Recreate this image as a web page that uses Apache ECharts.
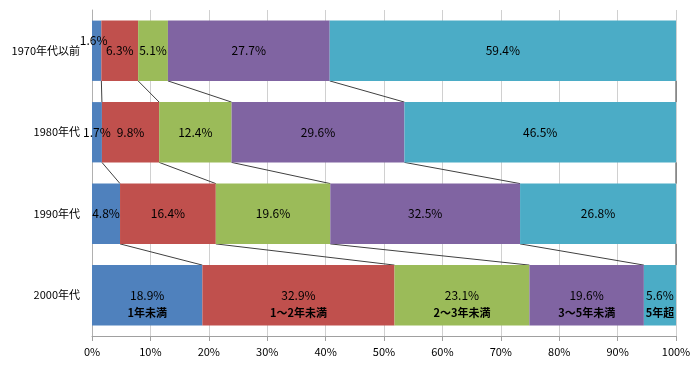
<!DOCTYPE html>
<html><head><meta charset="utf-8">
<script src="https://cdn.jsdelivr.net/npm/echarts@6/dist/echarts.min.js"></script>
<style>html,body{margin:0;padding:0;background:#fff}#c{width:700px;height:373px}</style>
</head><body><div id="c"></div>
<script>
var categories = ['1970年代以前', '1980年代', '1990年代', '2000年代'];
var seriesNames = ['1年未満', '1～2年未満', '2～3年未満', '3～5年未満', '5年超'];
var lt1 = [1.6, 1.7, 4.8, 18.9];
var y1to2 = [6.3, 9.8, 16.4, 32.9];
var y2to3 = [5.1, 12.4, 19.6, 23.1];
var y3to5 = [27.7, 29.6, 32.5, 19.6];
var over5 = [59.4, 46.5, 26.8, 5.6];
var xTicks = [0, 10, 20, 30, 40, 50, 60, 70, 80, 90, 100];
var colors = ['#4F81BD', '#C0504D', '#9BBB59', '#8064A2', '#4BACC6'];

var values = [lt1, y1to2, y2to3, y3to5, over5];
var FONT = '"Noto Sans CJK JP", "Noto Sans", sans-serif';
var BAR_FRAC = 0.74;

// connectors between consecutive rows at cumulative boundaries
var connectors = [];
for (var r = 0; r < categories.length - 1; r++) {
  var c1 = 0, c2 = 0;
  for (var s = 0; s < values.length; s++) {
    c1 += values[s][r]; c2 += values[s][r + 1];
    connectors.push([Math.min(c1, 100), Math.min(c2, 100), r]);
  }
}

var series = values.map(function (arr, si) {
  return {
    name: seriesNames[si],
    type: 'bar',
    stack: 'total',
    barWidth: (BAR_FRAC * 100) + '%',
    itemStyle: { color: colors[si] },
    z: 2,
    data: arr.map(function (v, ri) {
      var item = { value: v };
      if (ri === categories.length - 1) {
        item.label = {
          formatter: '{v|' + v.toFixed(1) + '%}\n{n|' + seriesNames[si] + '}',
          offset: [0, 9],
          rich: {
            v: { fontSize: 12, color: '#000', fontFamily: FONT, lineHeight: 18 },
            n: { fontSize: 11, color: '#000', fontWeight: 'bold', fontFamily: FONT, lineHeight: 18 }
          }
        };
      }
      if (ri === 0 && si === 0) {
        item.label = { offset: [-3, -10] };
      }
      return item;
    }),
    label: {
      show: true,
      position: 'inside',
      color: '#000',
      fontSize: 12,
      fontFamily: FONT,
      formatter: function (p) { return p.value.toFixed(1) + '%'; }
    }
  };
});

series.push({
  type: 'custom',
  z: 1,
  silent: true,
  renderItem: function (params, api) {
    var a = api.coord([api.value(0), api.value(2)]);
    var b = api.coord([api.value(1), api.value(2) + 1]);
    var half = api.size([0, 1])[1] * BAR_FRAC / 2;
    return {
      type: 'line',
      shape: { x1: a[0], y1: a[1] + half, x2: b[0], y2: b[1] - half },
      style: { stroke: '#404040', lineWidth: 1 }
    };
  },
  encode: { x: [0, 1], y: 2 },
  data: connectors
});

var chart = echarts.init(document.getElementById('c'));
chart.setOption({
  animation: false,
  grid: { left: 92, right: 24, top: 10, bottom: 37 },
  xAxis: {
    type: 'value', min: 0, max: 100, interval: 10,
    axisLine: { show: true, lineStyle: { color: '#a0a0a0' } },
    axisTick: { show: true, length: 5, lineStyle: { color: '#a0a0a0' } },
    splitLine: { show: true, lineStyle: { color: '#d0d0d0', width: 1 } },
    axisLabel: {
      color: '#000', fontSize: 11, fontFamily: FONT, margin: 10,
      formatter: function (v) { return xTicks.indexOf(v) >= 0 ? v + '%' : ''; }
    }
  },
  yAxis: {
    type: 'category', data: categories, inverse: true,
    axisLine: { show: true, lineStyle: { color: '#b0b0b0' } },
    axisTick: { show: false },
    axisLabel: { color: '#000', fontSize: 11, fontFamily: FONT, margin: 12 }
  },
  series: series
});
</script>
</body></html>
